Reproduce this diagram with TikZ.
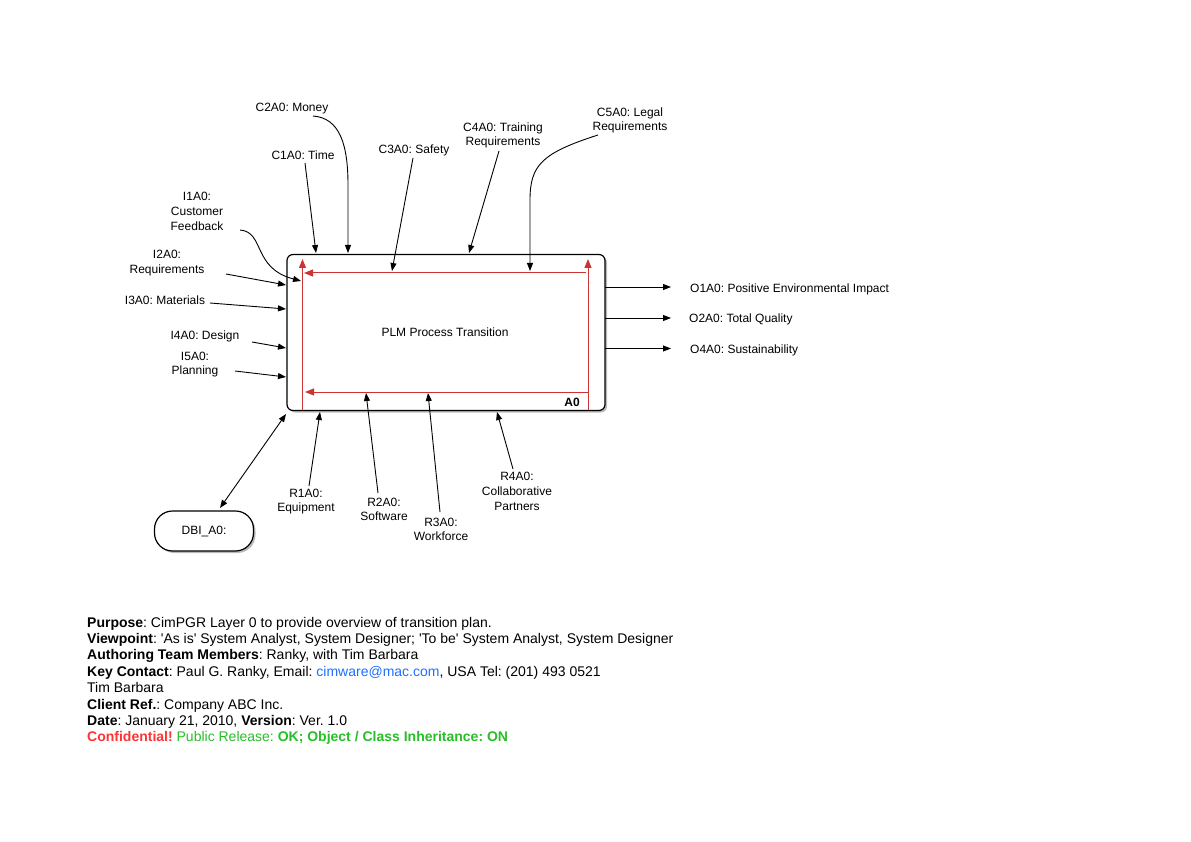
\documentclass[tikz,border=0pt]{standalone}
\usepackage{fontspec}
\setmainfont{Liberation Sans}
\usetikzlibrary{arrows.meta,shadows}
\frenchspacing
\definecolor{idefred}{RGB}{204,51,51}
\definecolor{maillink}{RGB}{30,110,255}
\definecolor{confred}{RGB}{255,51,51}
\definecolor{okgreen}{RGB}{40,190,40}
\newcommand{\sq}{\textquotesingle}
\begin{document}
\begin{tikzpicture}[x=1pt,y=-1pt,
  lbl/.style={font=\fontsize{12}{14.7}\selectfont, align=center, inner sep=0pt},
  olbl/.style={font=\fontsize{12}{14.7}\selectfont, anchor=base west, inner sep=0pt},
  flow/.style={draw=black, line width=0.9pt, -{Triangle[length=8pt,width=6pt]}},
  dflow/.style={draw=black, line width=0.9pt, {Triangle[length=8pt,width=6pt]}-{Triangle[length=8pt,width=6pt]}},
  redflow/.style={draw=idefred, line width=1pt, -{Triangle[length=9pt,width=7pt]}},
  foot/.style={font=\fontsize{14}{16.4}\selectfont, anchor=base west, inner sep=0pt},
  shadowed/.style={drop shadow={shadow xshift=2pt, shadow yshift=-2pt, opacity=0.45, fill=black!60}}]
\useasboundingbox (0,0) rectangle (1191,842);

% main activity box
\node[draw, line width=1.2pt, rounded corners=6pt, minimum width=318pt, minimum height=156pt,
      fill=white, shadowed] (box) at (446,332.5) {};
\node[lbl] (title) at (445,332) {PLM Process Transition};
\node[font=\fontsize{12}{14}\selectfont\bfseries, anchor=base, inner sep=0pt] (a0) at (572,406) {A0};

% red internal flows
\coordinate (rlb) at (302.5,410);
\coordinate (rlt) at (302.5,259);
\coordinate (rtr) at (586,273);
\coordinate (rtl) at (304,273);
\coordinate (rrb) at (588,410);
\coordinate (rrt) at (588,259);
\coordinate (rbr) at (588,392);
\coordinate (rbl) at (305,392);
\draw[redflow] (rlb) -- (rlt);
\draw[redflow] (rtr) -- (rtl);
\draw[redflow] (rrb) -- (rrt);
\draw[redflow] (rbr) -- (rbl);

% controls
\node[lbl] (c2) at (292,109) {C2A0: Money};
\node[lbl] (c1) at (303,155) {C1A0: Time};
\node[lbl] (c3) at (414,150) {C3A0: Safety};
\node[lbl] (c4) at (503,135.5) {C4A0: Training\\Requirements};
\node[lbl] (c5) at (630,120.5) {C5A0: Legal\\Requirements};
\coordinate (c1s) at (305,163);
\coordinate (c1e) at (316,253);
\coordinate (c2s) at (313,116);
\coordinate (c2e) at (348,253);
\coordinate (c3s) at (413,158);
\coordinate (c3e) at (392,271);
\coordinate (c4s) at (499,151);
\coordinate (c4e) at (469,253);
\coordinate (c5s) at (598,135);
\coordinate (c5e) at (530,271);
\draw[flow] (c1s) -- (c1e);
\draw[flow] (c2s) .. controls (340,118) and (348,145) .. (348,185) -- (c2e);
\draw[flow] (c3s) -- (c3e);
\draw[flow] (c4s) -- (c4e);
\draw[flow] (c5s) .. controls (542,153) and (530,165) .. (530,200) -- (c5e);

% inputs
\node[lbl] (i1) at (197,211.5) {I1A0:\\Customer\\Feedback};
\node[lbl] (i2) at (167,263) {I2A0:\\Requirements};
\node[lbl] (i3) at (165,300) {I3A0: Materials};
\node[lbl] (i4) at (205,336) {I4A0: Design};
\node[lbl] (i5) at (195,364.5) {I5A0:\\Planning};
\coordinate (i1s) at (240,230);
\coordinate (i1e) at (301,281);
\coordinate (i2s) at (226,274);
\coordinate (i2e) at (286,285);
\coordinate (i3s) at (210,303);
\coordinate (i3e) at (286,309);
\coordinate (i4s) at (252,342);
\coordinate (i4e) at (286,348);
\coordinate (i5s) at (235,371);
\coordinate (i5e) at (286,377);
\draw[flow] (i1s) .. controls (265,232) and (252,268) .. (i1e);
\draw[flow] (i2s) -- (i2e);
\draw[flow] (i3s) -- (i3e);
\draw[flow] (i4s) -- (i4e);
\draw[flow] (i5s) -- (i5e);

% outputs
\coordinate (o1s) at (605,287);
\coordinate (o2s) at (605,318);
\coordinate (o3s) at (605,348.5);
\coordinate (o1e) at (671,287);
\coordinate (o2e) at (671,318);
\coordinate (o3e) at (671,348.5);
\draw[flow] (o1s) -- (o1e);
\draw[flow] (o2s) -- (o2e);
\draw[flow] (o3s) -- (o3e);
\node[olbl] (o1) at (690,292.3) {O1A0: Positive Environmental Impact};
\node[olbl] (o2) at (689,322.3) {O2A0: Total Quality};
\node[olbl] (o3) at (690,353.3) {O4A0: Sustainability};

% mechanisms
\node[lbl] (r1) at (306,501.5) {R1A0:\\Equipment};
\node[lbl] (r2) at (384,509.5) {R2A0:\\Software};
\node[lbl] (r3) at (441,529.5) {R3A0:\\Workforce};
\node[lbl] (r4) at (517,491.5) {R4A0:\\Collaborative\\Partners};
\coordinate (r1s) at (309,486);
\coordinate (r1e) at (320,412);
\coordinate (r2s) at (378,493);
\coordinate (r2e) at (366,393);
\coordinate (r3s) at (440,512);
\coordinate (r3e) at (428,393);
\coordinate (r4s) at (513,469);
\coordinate (r4e) at (497,412);
\draw[flow] (r1s) -- (r1e);
\draw[flow] (r2s) -- (r2e);
\draw[flow] (r3s) -- (r3e);
\draw[flow] (r4s) -- (r4e);

% database interface
\node[draw, line width=1.2pt, rounded corners=18pt, minimum width=99pt, minimum height=40pt,
      fill=white, shadowed, font=\fontsize{12}{14}\selectfont, inner sep=0pt] (dbi) at (204,531) {DBI\_A0:};
\coordinate (dbs) at (220,508);
\coordinate (dbe) at (286,414);
\draw[dflow] (dbs) -- (dbe);

% footer
\node[foot] (f1) at (87,627) {\textbf{Purpose}: CimPGR Layer 0 to provide overview of transition plan.};
\node[foot] (f2) at (87,643.4) {\textbf{Viewpoint}: \sq As is\sq{} System Analyst, System Designer; \sq To be\sq{} System Analyst, System Designer};
\node[foot] (f3) at (87,659.8) {\textbf{Authoring Team Members}: Ranky, with Tim Barbara};
\node[foot] (f4) at (87,676.2) {\textbf{Key Contact}: Paul G. Ranky, Email: \textcolor{maillink}{cimware@mac.com}, USA Tel: (201) 493 0521};
\node[foot] (f5) at (87,692.6) {Tim Barbara};
\node[foot] (f6) at (87,709) {\textbf{Client Ref.}: Company ABC Inc.};
\node[foot] (f7) at (87,725.4) {\textbf{Date}: January 21, 2010, \textbf{Version}: Ver. 1.0};
\node[foot] (f8) at (87,741.8) {\textcolor{confred}{\textbf{Confidential!}} \textcolor{okgreen}{Public Release: \textbf{OK; Object / Class Inheritance: ON}}};
\end{tikzpicture}
\end{document}
